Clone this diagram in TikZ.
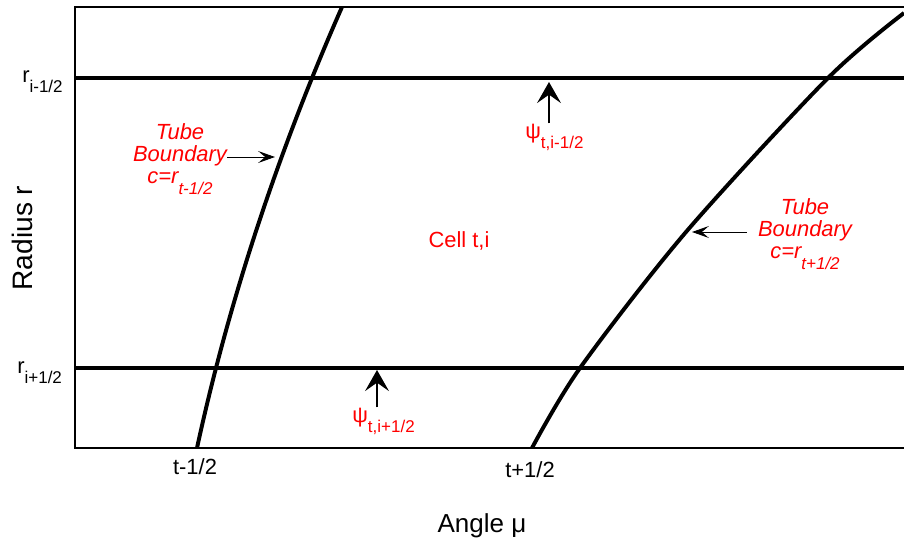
\documentclass[tikz,border=0pt]{standalone}
\usepackage{fontspec}
\setmainfont{Liberation Sans}
\usetikzlibrary{arrows.meta,calc}
\newcommand{\lsub}[1]{\raisebox{-0.5em}{\fontsize{12.1}{12}\selectfont #1}}

\begin{document}
\begin{tikzpicture}[x=0.025cm, y=-0.025cm,
  frame/.style={line width=1.2pt},
  level/.style={line width=3.2pt},
  tube/.style={line width=2.8pt},
  lbl/.style={font=\fontsize{15.6}{15}\selectfont, inner sep=0pt},
  axis/.style={font=\fontsize{18.5}{18}\selectfont, inner sep=0pt},
  note/.style={text=red, font=\itshape\fontsize{15.6}{15.8}\selectfont, align=center, inner sep=0pt},
  pointer/.style={-{Stealth[length=12pt,width=8.5pt,inset=5pt]}, line width=0.7pt},
  flux/.style={-{Stealth[length=15pt,width=17pt,inset=6pt]}, line width=0.9pt}]
\useasboundingbox (0,0) rectangle (904,539);
\def\xl{75}
\def\xr{904}

\draw[frame] (\xr,7) -- (\xl,7) -- (\xl,448) -- (\xr,448);
\draw[level] (\xl,78) -- (\xr,78);
\draw[level] (\xl,368) -- (\xr,368);

\draw[tube] (197,448) .. controls (228.9,301) and (277.3,154) .. (342,7);
\draw[tube] plot[smooth] coordinates {(532,448) (580,368) (686,232) (828,78) (904,13)};

\node[lbl, anchor=base west] (rtop) at (22,82) {r\lsub{i-1/2}};
\node[lbl, anchor=base west] (rbot) at (17,373) {r\lsub{i+1/2}};
\node[axis, font=\fontsize{20}{20}\selectfont, rotate=90, anchor=base] (radius) at (32,238) {Radius r};
\node[axis, anchor=base] (angle) at (482,532) {Angle μ};
\node[lbl, anchor=base] (tlo) at (195,474) {t-1/2};
\node[lbl, anchor=base] (thi) at (530,477) {t+1/2};

\node[lbl, text=red, anchor=base] (cell) at (459,247) {Cell t,i};
\node[note, anchor=north] (tbl) at (180,123) {Tube\\Boundary\\c=r\lsub{t-1/2}};
\node[note, anchor=north] (tbr) at (805,198) {Tube\\Boundary\\c=r\lsub{t+1/2}};
\node[lbl, text=red, anchor=base west] (psiup) at (525,138) {ψ\lsub{t,i-1/2}};
\node[lbl, text=red, anchor=base west] (psidn) at (352,422) {ψ\lsub{t,i+1/2}};

\coordinate (tipl) at (275,157);
\coordinate (tipr) at (692,232);
\coordinate (topflux) at (549,82);
\coordinate (botflux) at (377,370);

\draw[pointer] (tipl -| tbl.east) -- (tipl);
\draw[pointer, shorten <=0.275cm] (tipr -| tbr.west) -- (tipr);
\draw[flux] (topflux |- psiup.north) -- (topflux);
\draw[flux] (botflux |- psidn.north) -- (botflux);
\end{tikzpicture}
\end{document}
